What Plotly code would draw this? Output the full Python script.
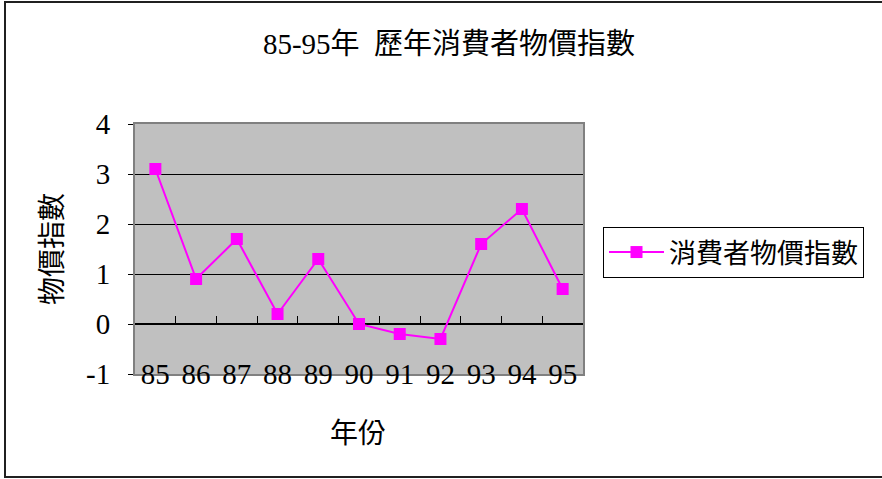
import plotly.graph_objects as go

# Consumer price index, annual change (%), ROC years 85-95
years = ["85", "86", "87", "88", "89", "90", "91", "92", "93", "94", "95"]
cpi = [3.1, 0.9, 1.7, 0.2, 1.3, 0.0, -0.2, -0.3, 1.6, 2.3, 0.7]
y_ticks = [-1, 0, 1, 2, 3, 4]
y_tick_text = [str(v) for v in y_ticks]

series_name = "消費者物價指數"
title_text = "85-95年  歷年消費者物價指數"
x_title = "年份"
y_title = "物價指數"

W, H = 882, 479
L, R, T, B = 135, 299, 124, 105
pw, ph = W - L - R, H - T - B

FONT = "Liberation Serif, Noto Sans CJK TC, serif"
MAGENTA = "#FF00FF"

fig = go.Figure()
fig.add_trace(go.Scatter(
    x=years, y=cpi, name=series_name, mode="lines+markers",
    line=dict(color=MAGENTA, width=2),
    marker=dict(symbol="square", size=12, color=MAGENTA),
    xaxis="x", yaxis="y",
))
# companion axis that carries the category-boundary ticks along the zero line
fig.add_trace(go.Scatter(
    x=years, y=[None] * len(years), xaxis="x2", yaxis="y",
    showlegend=False, hoverinfo="skip",
))

def px_x(p):
    return (p - L) / pw

def px_y(p):
    return (H - B - p) / ph

fig.update_layout(
    width=W, height=H, autosize=False,
    margin=dict(l=L, r=R, t=T, b=B, pad=0),
    paper_bgcolor="white", plot_bgcolor="#C0C0C0",
    font=dict(family=FONT, color="black"),
    title=dict(text=title_text, x=449 / W, xref="container", xanchor="center",
               y=1 - 44 / H, yref="container", yanchor="middle",
               font=dict(size=29, family=FONT)),
    xaxis=dict(type="category", range=[-0.5, len(years) - 0.5],
               showgrid=False, zeroline=False, ticks="",
               showline=True, linecolor="#808080", linewidth=2, mirror=True,
               tickfont=dict(size=29, family=FONT),
               ticklabelstandoff=-27),
    xaxis2=dict(type="category", matches="x", overlaying="x", anchor="free",
                position=1 / 5, side="bottom", showgrid=False, zeroline=False,
                showline=False, showticklabels=False,
                tickson="boundaries", ticks="inside", ticklen=8,
                tickcolor="black", tickwidth=1),
    yaxis=dict(range=[-1, 4], tickvals=y_ticks, ticktext=y_tick_text,
               showgrid=True, gridcolor="black", gridwidth=1,
               zeroline=True, zerolinecolor="black", zerolinewidth=1.5,
               showline=True, linecolor="#808080", linewidth=2, mirror=True,
               ticks="outside", ticklen=5, tickcolor="black",
               ticklabelstandoff=12,
               tickfont=dict(size=29, family=FONT)),
    legend=dict(x=px_x(603), y=px_y(227), xanchor="left", yanchor="top",
                bgcolor="white", bordercolor="black", borderwidth=1,
                font=dict(size=27, family=FONT), itemwidth=55),
    annotations=[
        dict(text=y_title, xref="paper", yref="paper", x=px_x(52), y=px_y(249),
             textangle=-90, showarrow=False, font=dict(size=28, family=FONT),
             xanchor="center", yanchor="middle"),
        dict(text=x_title, xref="paper", yref="paper", x=px_x(358), y=px_y(433),
             showarrow=False, font=dict(size=28, family=FONT),
             xanchor="center", yanchor="middle"),
    ],
    shapes=[
        dict(type="rect", xref="paper", yref="paper",
             x0=px_x(5), y0=px_y(477), x1=px_x(886), y1=px_y(2),
             line=dict(color="#202020", width=2), fillcolor="rgba(0,0,0,0)",
             layer="below"),
    ],
    showlegend=True,
)

fig.write_html("out.html")
